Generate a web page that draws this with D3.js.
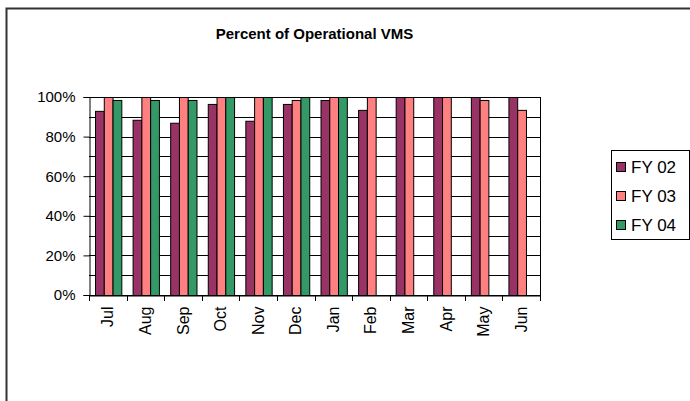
<!DOCTYPE html>
<html>
<head>
<meta charset="utf-8">
<script src="https://cdn.jsdelivr.net/npm/d3@7"></script>
<style>
  body { margin: 0; background: #fff; }
  svg { display: block; font-family: Arial, "Liberation Sans", sans-serif; }
</style>
</head>
<body>
<svg id="chart" width="690" height="401"></svg>
<script>
// --- Data ---
const months = ["Jul", "Aug", "Sep", "Oct", "Nov", "Dec", "Jan", "Feb", "Mar", "Apr", "May", "Jun"];
const seriesNames = ["FY 02", "FY 03", "FY 04"];
const fy02 = [93, 88.5, 87, 96.5, 88, 96.5, 98.5, 93.5, 100, 100, 100, 100];
const fy03 = [100, 100, 100, 100, 100, 98.5, 100, 100, 100, 100, 98.5, 93.5];
const fy04 = [98.5, 98.5, 98.5, 100, 100, 100, 100, null, null, null, null, null];
const yTicks = [0, 20, 40, 60, 80, 100];
const gridTicks = [0, 10, 20, 30, 40, 50, 60, 70, 80, 90, 100];
const colors = ["#993366", "#FF8080", "#339966"];

const seriesValues = [fy02, fy03, fy04];

// --- Layout ---
const svg = d3.select("#chart");
const plot = { left: 89, right: 540, top: 97, bottom: 295 };

// outer chart frame (only top and left edges fall inside the picture)
svg.append("rect")
    .attr("x", 6.5).attr("y", 8.5)
    .attr("width", 700).attr("height", 420)
    .attr("fill", "none")
    .attr("stroke", "#333")
    .attr("stroke-width", 2);

svg.append("text")
    .attr("x", (plot.left + plot.right) / 2)
    .attr("y", 39)
    .attr("text-anchor", "middle")
    .attr("font-size", "15px")
    .attr("font-weight", "bold")
    .text("Percent of Operational VMS");

// --- Scales ---
const x = d3.scaleBand()
    .domain(months)
    .range([plot.left, plot.right])
    .paddingInner(0)
    .paddingOuter(0);

const bw = x.bandwidth();
const x1 = d3.scaleBand()
    .domain(seriesNames)
    .range([bw * 0.16, bw * 0.86])
    .padding(0);

const y = d3.scaleLinear()
    .domain([0, 100])
    .range([plot.bottom, plot.top]);

// --- Gridlines ---
svg.append("g")
    .selectAll("line")
    .data(gridTicks)
    .join("line")
    .attr("x1", plot.left).attr("x2", plot.right)
    .attr("y1", d => Math.round(y(d)) + 0.5)
    .attr("y2", d => Math.round(y(d)) + 0.5)
    .attr("stroke", "#000")
    .attr("stroke-width", 1);

// plot area right edge
svg.append("line")
    .attr("x1", plot.right + 0.5).attr("x2", plot.right + 0.5)
    .attr("y1", plot.top).attr("y2", plot.bottom)
    .attr("stroke", "#000");

// --- Bars ---
const rows = months.map((m, i) => ({ month: m, values: seriesValues.map((s, j) => ({ name: seriesNames[j], v: s[i], c: colors[j] })) }));

svg.append("g")
    .selectAll("g")
    .data(rows)
    .join("g")
    .attr("transform", d => `translate(${x(d.month)},0)`)
    .selectAll("rect")
    .data(d => d.values.filter(v => v.v != null))
    .join("rect")
    .attr("x", d => x1(d.name) + 0.5)
    .attr("y", d => y(d.v) + 0.5)
    .attr("width", x1.bandwidth())
    .attr("height", d => y(0) - y(d.v))
    .attr("fill", d => d.c)
    .attr("stroke", "#000")
    .attr("stroke-width", 1);

// --- Axes ---
const yAxis = d3.axisLeft(y)
    .tickValues(yTicks)
    .tickFormat(d => d + "%")
    .tickSize(6)
    .tickPadding(8);

const yg = svg.append("g")
    .attr("transform", `translate(${plot.left + 0.5},0)`)
    .call(yAxis);
yg.select(".domain").attr("stroke", "#000");
yg.selectAll("text").attr("font-size", "15px").attr("fill", "#000").attr("font-family", "Arial, 'Liberation Sans', sans-serif");

const xAxis = d3.axisBottom(x).tickSize(0).tickFormat(d => d);
const xg = svg.append("g")
    .attr("transform", `translate(0,${plot.bottom + 0.5})`)
    .call(xAxis);
xg.select(".domain").attr("stroke", "#000");
xg.selectAll(".tick text")
    .attr("font-size", "16px")
    .attr("fill", "#000")
    .attr("font-family", "Arial, 'Liberation Sans', sans-serif")
    .attr("transform", "rotate(-90)")
    .attr("text-anchor", "end")
    .attr("x", -11)
    .attr("y", 0)
    .attr("dy", "0.35em");

// category boundary ticks
svg.append("g")
    .selectAll("line")
    .data(d3.range(months.length + 1))
    .join("line")
    .attr("x1", i => Math.round(plot.left + i * bw) + 0.5)
    .attr("x2", i => Math.round(plot.left + i * bw) + 0.5)
    .attr("y1", plot.bottom)
    .attr("y2", plot.bottom + 6)
    .attr("stroke", "#000");

// --- Legend ---
const legend = svg.append("g");
legend.append("rect")
    .attr("x", 611.5).attr("y", 150.5)
    .attr("width", 78).attr("height", 89)
    .attr("fill", "#fff")
    .attr("stroke", "#000");

const items = legend.selectAll("g.item")
    .data(seriesNames)
    .join("g")
    .attr("class", "item")
    .attr("transform", (d, i) => `translate(616,${167 + i * 29})`);

items.append("rect")
    .attr("x", 0.5).attr("y", -4.5)
    .attr("width", 9).attr("height", 9)
    .attr("fill", (d, i) => colors[i])
    .attr("stroke", "#000");

items.append("text")
    .attr("x", 15)
    .attr("y", 0)
    .attr("dy", "0.35em")
    .attr("font-size", "17px")
    .text(d => d);
</script>
</body>
</html>
